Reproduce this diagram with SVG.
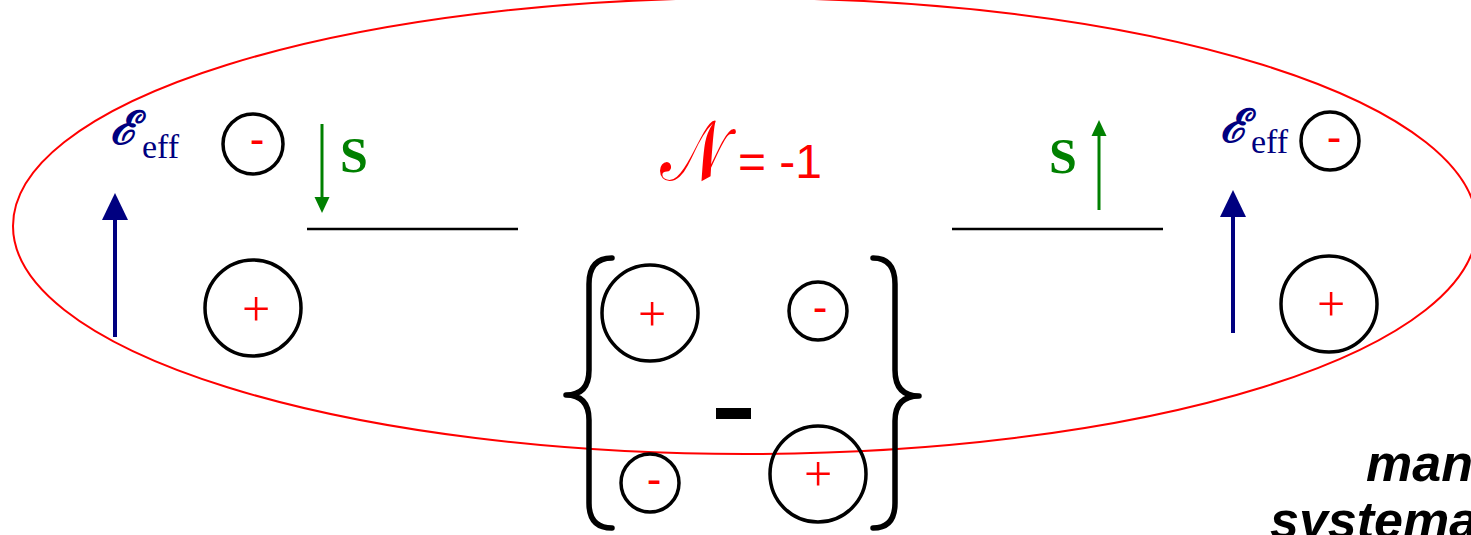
<svg xmlns="http://www.w3.org/2000/svg" width="1471" height="535" viewBox="0 0 1471 535">
<style>
.orb{fill:none;stroke:#000;stroke-width:3.5}
.lvl{stroke:#000;stroke-width:2.5}
.brace{fill:none;stroke:#000;stroke-width:5.5;stroke-linecap:round;stroke-linejoin:round}
.plus{font-family:"Liberation Serif",serif;font-size:50px;fill:#f00;text-anchor:middle}
.minus{font-family:"Liberation Sans",Arial,sans-serif;font-size:44px;fill:#f00;text-anchor:middle}
.E{font-family:"DejaVu Serif",serif;font-size:46px;font-style:italic;font-weight:bold;fill:#000080}
.eff{font-family:"Liberation Serif",serif;font-size:34px;fill:#000080}
.S{font-family:"Liberation Serif",serif;font-size:50px;font-weight:bold;fill:#008000}
.blue{stroke:#000080;stroke-width:4}
.green{stroke:#008000;stroke-width:3}
</style>
<rect width="1471" height="535" fill="#fff"/>
<g id="boundary">
<ellipse cx="745" cy="226" rx="732" ry="228" fill="none" stroke="#f00" stroke-width="2"/>
</g>
<g id="connectors">
<line class="blue" x1="115" y1="337" x2="115" y2="216"/>
<polygon points="115,193 102,220 128,220" fill="#000080"/>
<line class="blue" x1="1233" y1="333" x2="1233" y2="214"/>
<polygon points="1233,190 1220,217 1246,217" fill="#000080"/>
<line class="green" x1="322" y1="124" x2="322" y2="200"/>
<polygon points="322,213 314.5,197 329.5,197" fill="#008000"/>
<line class="green" x1="1099" y1="210" x2="1099" y2="133"/>
<polygon points="1099,120 1091.5,136 1106.5,136" fill="#008000"/>
<line class="lvl" x1="307" y1="229" x2="518" y2="229"/>
<line class="lvl" x1="952" y1="229" x2="1163" y2="229"/>
</g>
<g id="left-labels">
<text x="110" y="144" class="E">ℰ</text>
<text x="142" y="158" class="eff">eff</text>
<text x="340" y="172" class="S">S</text>
</g>
<g id="right-labels">
<text x="1220" y="142" class="E">ℰ</text>
<text x="1251" y="153" class="eff">eff</text>
<text x="1049" y="173" class="S">S</text>
</g>
<g id="left-minus"><circle class="orb" cx="253" cy="144" r="30"/><text class="minus" x="257" y="154">-</text></g>
<g id="left-plus"><circle class="orb" cx="253" cy="308" r="48"/><text class="plus" x="256" y="326">+</text></g>
<g id="right-minus"><circle class="orb" cx="1330" cy="141" r="29"/><text class="minus" x="1334" y="152">-</text></g>
<g id="right-plus"><circle class="orb" cx="1329" cy="304" r="48"/><text class="plus" x="1331" y="321">+</text></g>
<g id="title">
<text transform="translate(660,180) scale(0.83,1)" x="0" y="0" font-family="DejaVu Serif,serif" font-size="84" fill="#f00">𝒩</text>
<text x="738" y="178" font-family="Liberation Sans,Arial,sans-serif" font-size="48" fill="#f00">= -1</text>
</g>
<g id="combination">
<path class="brace" d="M612,258 Q589,258 589,284 L589,370 Q589,395 566,395 Q589,395 589,420 L589,503 Q589,528 612,528"/>
<path class="brace" d="M873,258 Q895,258 895,284 L895,370 Q895,396 919,396 Q895,396 895,421 L895,503 Q895,528 873,528"/>
<circle class="orb" cx="650" cy="313" r="48"/><text class="plus" x="652" y="331">+</text>
<circle class="orb" cx="818" cy="311" r="29"/><text class="minus" x="820" y="322">-</text>
<rect x="716" y="408" width="35" height="11" fill="#000"/>
<circle class="orb" cx="650" cy="483" r="29"/><text class="minus" x="654" y="494">-</text>
<circle class="orb" cx="818" cy="474" r="48"/><text class="plus" x="818" y="491">+</text>
</g>
<g id="caption" font-family="Liberation Sans,Arial,sans-serif" font-size="52" font-weight="bold" font-style="italic" fill="#000">
<text x="1366" y="481">man</text>
<text x="1270" y="538">systema</text>
</g>
</svg>
